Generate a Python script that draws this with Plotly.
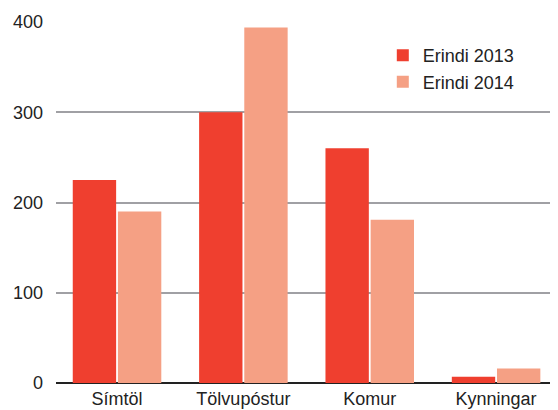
import plotly.graph_objects as go

categories = ["Símtöl", "Tölvupóstur", "Komur", "Kynningar"]
erindi_2013 = [225, 300, 260, 7]
erindi_2014 = [190, 394, 181, 16]
series_names = ["Erindi 2013", "Erindi 2014"]
y_ticks = [0, 100, 200, 300, 400]

fig = go.Figure()
fig.add_trace(go.Bar(x=categories, y=erindi_2013, name=series_names[0],
                     marker=dict(color="#ef3f2f", line=dict(width=0))))
fig.add_trace(go.Bar(x=categories, y=erindi_2014, name=series_names[1],
                     marker=dict(color="#f5a084", line=dict(width=0))))

fig.update_layout(
    width=550, height=402,
    margin=dict(l=48, r=0, t=14, b=27),
    paper_bgcolor="white", plot_bgcolor="white",
    barmode="group", bargap=0.285, bargroupgap=0.04,
    font=dict(family="Liberation Sans, Arial, sans-serif", size=18, color="#222222"),
    showlegend=True,
    legend=dict(x=0.651, y=0.958, xanchor="left", yanchor="top",
                bgcolor="rgba(0,0,0,0)", font=dict(size=18, color="#222222"),
                tracegroupgap=0, itemwidth=30),
    xaxis=dict(range=[-0.483, 3.49], showgrid=False, showline=False,
               ticks="", ticklabelstandoff=3, tickfont=dict(size=18)),
    yaxis=dict(range=[0, 400], tickvals=y_ticks, showgrid=True,
               gridcolor="#a0a0a4", gridwidth=1.5, zeroline=True,
               zerolinecolor="#222222", zerolinewidth=2, showline=False,
               ticks="", ticklabelstandoff=12, tickfont=dict(size=18)),
)

fig.write_html("out.html")
